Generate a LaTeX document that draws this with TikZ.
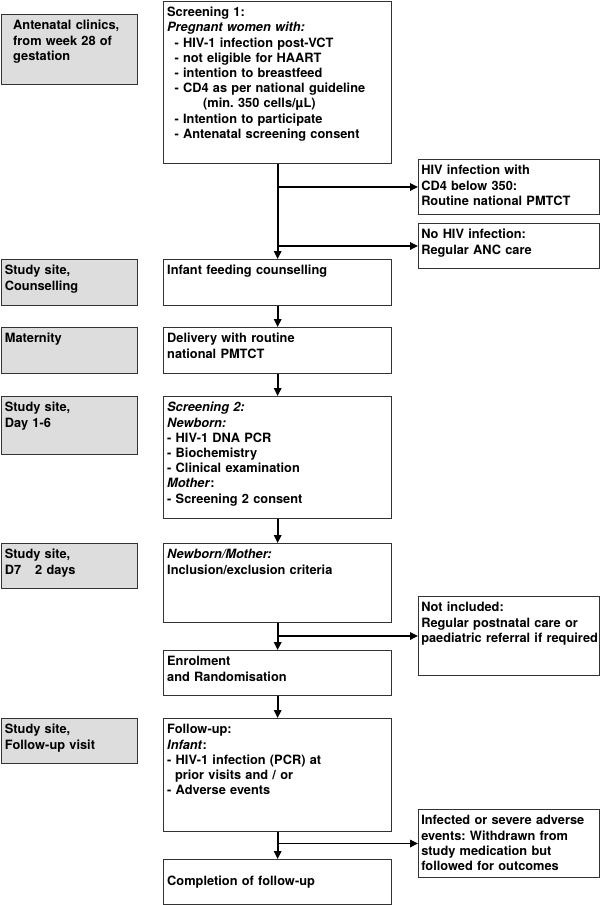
\documentclass[tikz,border=0pt]{standalone}
\usepackage{fontspec}
\setmainfont{TeX Gyre Heros}
\usetikzlibrary{arrows.meta}
\definecolor{sitegrey}{RGB}{221,221,221}
\colorlet{framegrey}{white!20!black}
\newcommand{\cell}[2]{\parbox[t][#1][t]{\linewidth}{\raggedright\frenchspacing\strut#2}}

\begin{document}
\begin{tikzpicture}[
    x=1pt, y=-1pt,
    every node/.style={font=\bfseries\fontsize{12.8}{15.2}\selectfont},
    site/.style={
        draw=framegrey,
        fill=sitegrey,
        line width=1pt,
        anchor=north west,
        inner xsep=3.4pt,
        inner ysep=4.8pt,
        text width=129.2pt,
        align=left
    },
    stage/.style={site, fill=white, text width=220.9pt},
    outcome/.style={site, fill=white, inner xsep=2.8pt, text width=175.4pt},
    flow/.style={line width=1.7pt, -{Triangle[length=8pt,width=7.5pt]}}
]
\useasboundingbox (0,0) rectangle (600,905);

% where
\node [site, text width=129.7pt] (antenatal) at (0.5, 14) {\cell{60.4pt}{%
    \leftskip=8.8pt Antenatal clinics,\\from week 28 of\\gestation}};
\node [site] (counsel)   at (1, 259) {\cell{36.4pt}{Study site,\\Counselling}};
\node [site] (maternity) at (1, 327) {\cell{36.4pt}{Maternity}};
\node [site] (dayone)    at (1, 396) {\cell{48.4pt}{Study site,\\Day 1-6}};
\node [site] (dayseven)  at (1, 543) {\cell{35.4pt}{Study site,\\D7\hspace{14pt}2 days}};
\node [site] (visit)     at (1, 718) {\cell{35.4pt}{Study site,\\Follow-up visit}};

% main flow
\node [stage] (scr1) at (163.3, 0.8) {\cell{152.4pt}{%
    Screening 1:\\
    \textit{Pregnant women with:}\\
    \hspace*{7.4pt}- HIV-1 infection post-VCT\\
    \hspace*{7.4pt}- not eligible for HAART\\
    \hspace*{7.4pt}- intention to breastfeed\\
    \hspace*{7.4pt}- CD4 as per national guideline\\
    \hspace*{36pt}(min. 350 cells/µL)\\
    \hspace*{7.4pt}- Intention to participate\\
    \hspace*{7.4pt}- Antenatal screening consent}};
\node [stage] (feed)  at (163.3, 259) {\cell{36.4pt}{Infant feeding counselling}};
\node [stage] (deliv) at (163.3, 327) {\cell{36.4pt}{Delivery with routine\\national PMTCT}};
\node [stage] (scr2)  at (163.3, 396) {\cell{112.4pt}{%
    \textit{Screening 2:}\\
    \textit{Newborn:}\\
    - HIV-1 DNA PCR\\
    - Biochemistry\\
    - Clinical examination\\
    \textit{Mother}:\\
    - Screening 2 consent}};
\node [stage] (incl)  at (163.3, 543) {\cell{69.4pt}{%
    \textit{Newborn/Mother:}\\Inclusion/exclusion criteria}};
\node [stage] (enrol) at (163.3, 650) {\cell{35.4pt}{Enrolment\\and Randomisation}};
\node [stage] (fup)   at (163.3, 718) {\cell{103.4pt}{%
    Follow-up:\\
    \textit{Infant}:\\
    - HIV-1 infection (PCR) at\\
    \hspace*{7.8pt}prior visits and / or\\
    - Adverse events}};
\node [stage, minimum height=45pt] (done) at (163.3, 859) {Completion of follow-up};

% side exits
\node [outcome] (hiv)    at (418, 159) {\cell{45.4pt}{%
    HIV infection with\\CD4 below 350:\\Routine national PMTCT}};
\node [outcome] (nohiv)  at (418, 223) {\cell{35.4pt}{No HIV infection:\\Regular ANC care}};
\node [outcome] (notinc) at (418, 596) {\cell{69.4pt}{%
    Not included:\\Regular postnatal care or\\\mbox{paediatric referral if required}}};
\node [outcome] (withdr) at (418, 809) {\cell{58.4pt}{%
    Infected or severe adverse\\events: Withdrawn from\\study medication but\\followed for outcomes}};

\draw [flow] (scr1.south) -- (feed.north);
\draw [flow] (scr1.south |- hiv.west) -- (hiv.west);
\draw [flow] (scr1.south |- nohiv.west) -- (nohiv.west);
\draw [flow] (feed.south) -- (deliv.north);
\draw [flow] (deliv.south) -- (scr2.north);
\draw [flow] (scr2.south) -- (incl.north);
\draw [flow] (incl.south) -- (enrol.north);
\draw [flow] (incl.south |- notinc.west) -- (notinc.west);
\draw [flow] (enrol.south) -- (fup.north);
\draw [flow] (fup.south) -- (done.north);
\draw [flow] (fup.south |- withdr.west) -- (withdr.west);

\end{tikzpicture}
\end{document}
